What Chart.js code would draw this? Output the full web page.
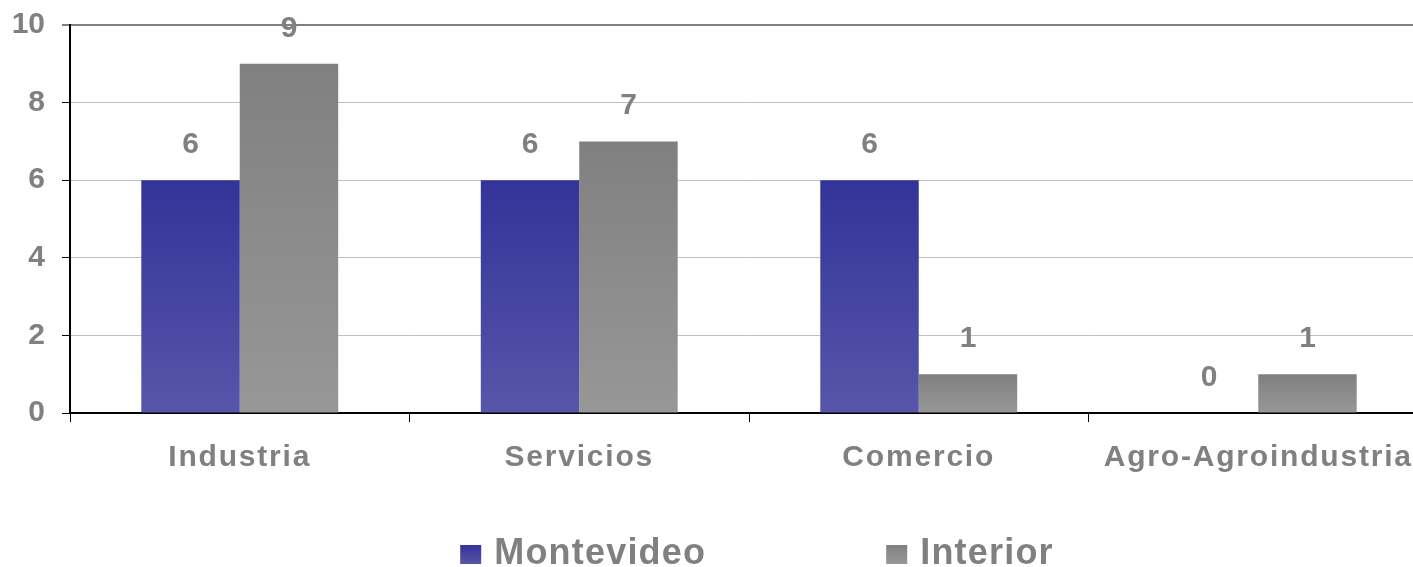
<!DOCTYPE html>
<html>
<head>
<meta charset="utf-8">
<script src="https://cdn.jsdelivr.net/npm/chart.js@4.4.1/dist/chart.umd.min.js"></script>
<style>
  html, body { margin: 0; padding: 0; background: #fff; overflow: hidden; width: 1413px; height: 567px; }
  canvas { display: block; }
</style>
</head>
<body>
<canvas id="chart" width="1430" height="567"></canvas>
<script>
// datos del gráfico
const categories = ["Industria", "Servicios", "Comercio", "Agro-Agroindustria"];
const montevideo = [6, 6, 6, 0];
const interior = [9, 7, 1, 1];
const seriesNames = ["Montevideo", "Interior"];
const yTicks = [0, 2, 4, 6, 8, 10];

const GRAY = "#808080";
const FONT = "'Liberation Sans', Arial, sans-serif";
const seriesColors = [["#333399", "#5656aa"], ["#808080", "#979797"]];

// degradado vertical para cada barra (arriba -> abajo)
function barGradient(top, bottom) {
  return (c) => {
    const chart = c.chart;
    if (!chart.chartArea || c.type !== "data") return top;
    const y = chart.scales.y;
    const yTop = y.getPixelForValue(c.raw);
    const yBot = y.getPixelForValue(0);
    if (yBot - yTop < 1) return top;
    const g = chart.ctx.createLinearGradient(0, yTop, 0, yBot);
    g.addColorStop(0, top);
    g.addColorStop(1, bottom);
    return g;
  };
}

// etiquetas de valor encima de las barras
const valueLabels = {
  id: "valueLabels",
  afterDatasetsDraw(chart) {
    const ctx = chart.ctx;
    ctx.save();
    ctx.font = "bold 30px " + FONT;
    ctx.fillStyle = GRAY;
    ctx.textAlign = "center";
    ctx.textBaseline = "alphabetic";
    chart.data.datasets.forEach((ds, i) => {
      const meta = chart.getDatasetMeta(i);
      meta.data.forEach((el, j) => {
        ctx.fillText(String(ds.data[j]), el.x, el.y - 27);
      });
    });
    ctx.restore();
  }
};

// leyenda abajo (cuadrado + texto)
const bottomLegend = {
  id: "bottomLegend",
  afterDraw(chart) {
    const ctx = chart.ctx;
    const area = chart.chartArea;
    ctx.save();
    ctx.font = "bold 36px " + FONT;
    ctx.letterSpacing = "1.2px";
    ctx.textBaseline = "alphabetic";
    ctx.textAlign = "left";
    const box = 21, boxGap = 13, itemGap = 180;
    const widths = seriesNames.map(n => ctx.measureText(n).width);
    let total = 0;
    widths.forEach((w, i) => { total += box + boxGap + w + (i ? itemGap : 0); });
    let x = (area.left + area.right) / 2 + 8 - total / 2;
    const base = 564;
    seriesNames.forEach((name, i) => {
      const g = ctx.createLinearGradient(0, base - 19, 0, base);
      g.addColorStop(0, seriesColors[i][0]);
      g.addColorStop(1, seriesColors[i][1]);
      ctx.fillStyle = g;
      ctx.fillRect(x, base - 19, box, 19);
      x += box + boxGap;
      ctx.fillStyle = GRAY;
      ctx.fillText(name, x, base);
      x += widths[i] + itemGap;
    });
    ctx.restore();
  }
};

const labelFont = { family: FONT, size: 30, weight: "bold" };

new Chart(document.getElementById("chart"), {
  type: "bar",
  data: {
    labels: categories,
    datasets: [
      { label: seriesNames[0], data: montevideo, backgroundColor: barGradient(...seriesColors[0]) },
      { label: seriesNames[1], data: interior, backgroundColor: barGradient(...seriesColors[1]) }
    ]
  },
  options: {
    responsive: false,
    animation: false,
    devicePixelRatio: 1,
    layout: { padding: { top: 25, right: 2, bottom: 74, left: 0 } },
    datasets: { bar: { categoryPercentage: 0.58, barPercentage: 1 } },
    plugins: {
      legend: { display: false },
      tooltip: { enabled: false }
    },
    scales: {
      x: {
        offset: true,
        grid: { offset: true, drawOnChartArea: false, tickLength: 9, tickColor: "#000", tickWidth: 1 },
        border: { color: "#000", width: 2 },
        ticks: { color: GRAY, padding: 18, autoSkip: false, maxRotation: 0, font: labelFont },
        afterFit: s => { s.height = 80; },
        afterUpdate: s => {
          // espaciado entre letras como en el original
          if (s._spaced) return;
          const orig = s.drawLabels.bind(s);
          s.drawLabels = function (area) {
            this.ctx.save();
            this.ctx.letterSpacing = "1.8px";
            orig(area);
            this.ctx.restore();
          };
          s._spaced = true;
        }
      },
      y: {
        min: 0,
        max: 10,
        afterBuildTicks: s => { s.ticks = yTicks.map(v => ({ value: v })); },
        ticks: { color: GRAY, padding: 17, font: labelFont },
        grid: {
          color: c => (c.tick && c.tick.value === 10 ? GRAY : "#c0c0c0"),
          lineWidth: c => (c.tick && c.tick.value === 10 ? 2 : 1),
          tickLength: 8,
          tickColor: "#000",
          tickWidth: 1
        },
        border: { color: "#000", width: 2 },
        afterFit: s => {
          s.width = 70;
          // sin margen extra arriba/abajo por las etiquetas
          s.paddingTop = 0;
          s.paddingBottom = 0;
        }
      }
    }
  },
  plugins: [valueLabels, bottomLegend]
});
</script>
</body>
</html>
